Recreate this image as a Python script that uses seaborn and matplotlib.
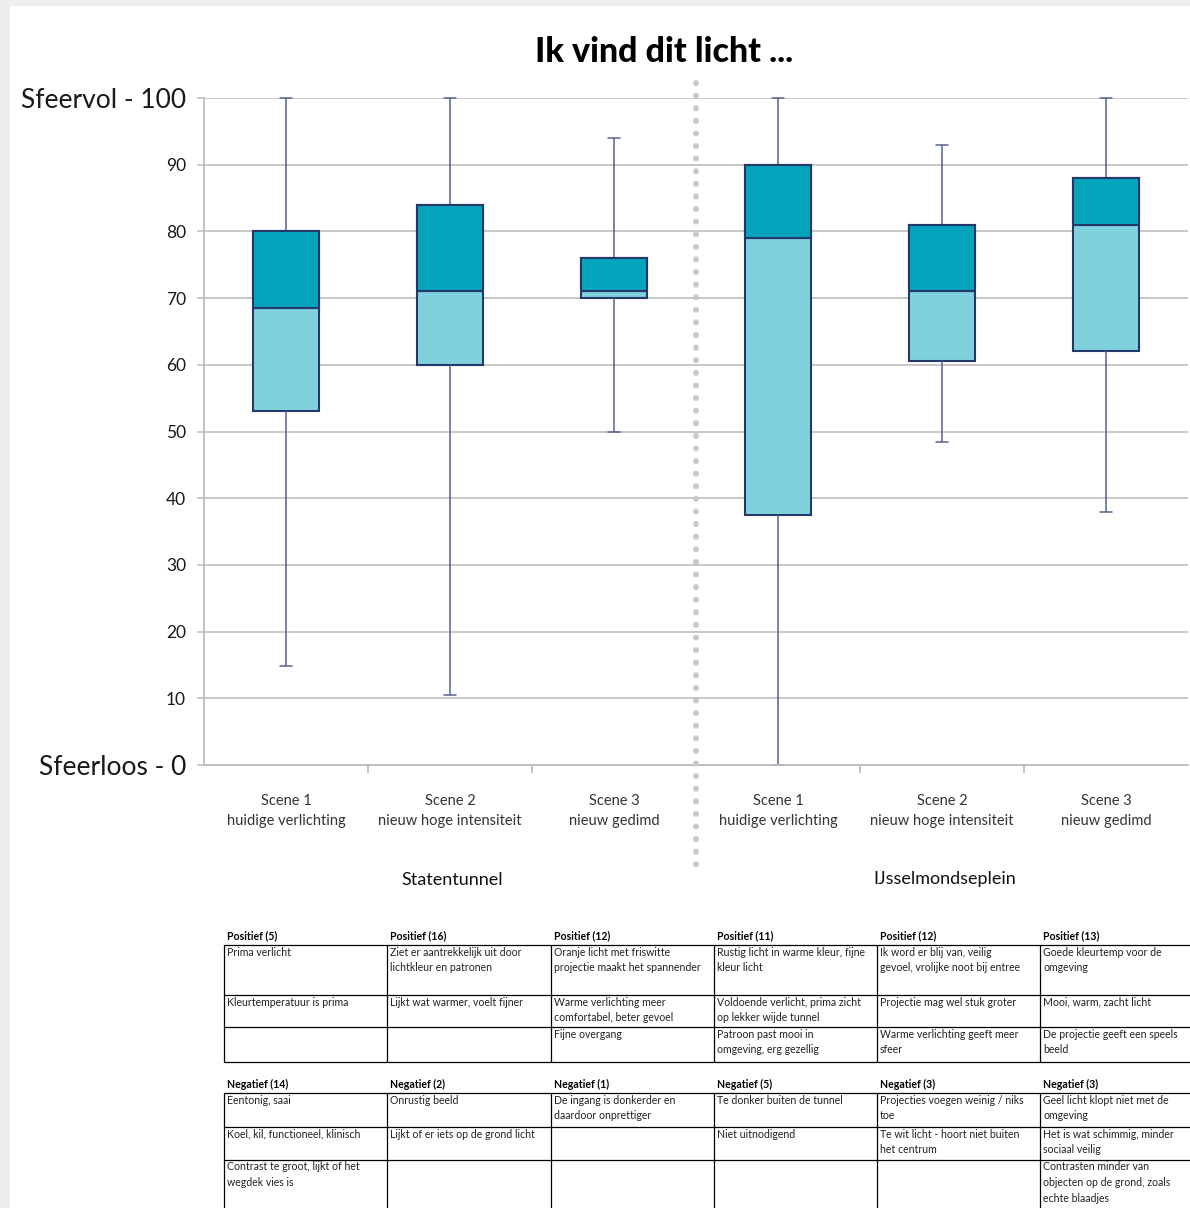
import matplotlib
matplotlib.use("Agg")
import matplotlib.pyplot as plt
from matplotlib.lines import Line2D
from matplotlib.patches import Rectangle
import seaborn as sns
import pandas as pd

# ---- data: five-number summaries per scene ----
locations = ["Statentunnel", "IJsselmondseplein"]
scene_labels = ["Scene 1\nhuidige verlichting",
                "Scene 2\nnieuw hoge intensiteit",
                "Scene 3\nnieuw gedimd"]
minimum = [14.8, 10.5, 50.0, 0.0, 48.5, 38.0]
q1 = [53.0, 60.0, 70.0, 37.5, 60.5, 62.0]
median = [68.5, 71.0, 71.0, 79.0, 71.0, 81.0]
q3 = [80.0, 84.0, 76.0, 90.0, 81.0, 88.0]
maximum = [100.0, 100.0, 94.0, 100.0, 93.0, 100.0]

y_labels = ["Sfeerloos - 0", "10", "20", "30", "40", "50", "60", "70", "80", "90", "Sfeervol - 100"]

pos_headers = ["Positief (5)", "Positief (16)", "Positief (12)", "Positief (11)", "Positief (12)", "Positief (13)"]
pos_row1 = ["Prima verlicht", "Ziet er aantrekkelijk uit door\nlichtkleur en patronen",
            "Oranje licht met friswitte\nprojectie maakt het spannender",
            "Rustig licht in warme kleur, fijne\nkleur licht",
            "Ik word er blij van, veilig\ngevoel, vrolijke noot bij entree",
            "Goede kleurtemp voor de\nomgeving"]
pos_row2 = ["Kleurtemperatuur is prima", "Lijkt wat warmer, voelt fijner",
            "Warme verlichting meer\ncomfortabel, beter gevoel",
            "Voldoende verlicht, prima zicht\nop lekker wijde tunnel",
            "Projectie mag wel stuk groter", "Mooi, warm, zacht licht"]
pos_row3 = ["", "", "Fijne overgang", "Patroon past mooi in\nomgeving, erg gezellig",
            "Warme verlichting geeft meer\nsfeer", "De projectie geeft een speels\nbeeld"]

neg_headers = ["Negatief (14)", "Negatief (2)", "Negatief (1)", "Negatief (5)", "Negatief (3)", "Negatief (3)"]
neg_row1 = ["Eentonig, saai", "Onrustig beeld", "De ingang is donkerder en\ndaardoor onprettiger",
            "Te donker buiten de tunnel", "Projecties voegen weinig / niks\ntoe",
            "Geel licht klopt niet met de\nomgeving"]
neg_row2 = ["Koel, kil, functioneel, klinisch", "Lijkt of er iets op de grond licht", "",
            "Niet uitnodigend", "Te wit licht - hoort niet buiten\nhet centrum",
            "Het is wat schimmig, minder\nsociaal veilig"]
neg_row3 = ["Contrast te groot, lijkt of het\nwegdek vies is", "", "", "", "",
            "Contrasten minder van\nobjecten op de grond, zoals\nechte blaadjes"]

# ---- long-form table: one row per summary value ----
keys = [f"{loc} | {s.splitlines()[0]}" for loc in locations for s in scene_labels]
rows = []
for k, a, b, c, d, e in zip(keys, minimum, q1, median, q3, maximum):
    for v in (a, b, c, d, e):
        rows.append({"groep": k, "score": v})
df = pd.DataFrame(rows)

# ---- styling ----
sns.set_theme(style="white")
plt.rcParams["font.family"] = ["Lato", "DejaVu Sans"]

W, H = 1190, 1208
fig = plt.figure(figsize=(W / 100, H / 100), dpi=100, facecolor="white")


def fx(x):
    return x / W


def fy(y):
    return 1 - y / H


LIGHT = "#80D1DE"
DARK = "#05A4BD"
NAVY = "#24396A"
WHISK = "#55638E"
GRID = "#C4C4C4"

# slide-like grey margins
fig.patches.append(Rectangle((0, fy(6)), 1, 1 - fy(6), transform=fig.transFigure,
                             facecolor="#EFEDED", edgecolor="none", zorder=0))
fig.patches.append(Rectangle((0, 0), fx(10), 1, transform=fig.transFigure,
                             facecolor="#EFEDED", edgecolor="none", zorder=0))

ax = fig.add_axes([fx(204), fy(765), fx(1188) - fx(204), fy(98) - fy(765)])
ax.set_facecolor("none")

sns.boxplot(data=df, x="groep", y="score", order=keys, ax=ax,
            width=0.4, whis=(0, 100), color=LIGHT, saturation=1,
            linecolor=NAVY, linewidth=1.5, capwidths=0.07,
            whiskerprops={"color": WHISK, "linewidth": 1.1},
            capprops={"color": WHISK, "linewidth": 1.1},
            medianprops={"color": NAVY, "linewidth": 1.5},
            boxprops={"edgecolor": NAVY, "linewidth": 1.5})
for ln in ax.lines:
    ln.set_clip_on(False)

# upper half of each box (median to third quartile) in the darker tone
upper = [b - a for a, b in zip(median, q3)]
ax.bar(range(len(keys)), upper, bottom=median, width=0.4, color=DARK,
       edgecolor=NAVY, linewidth=1.5, zorder=3)

ax.set_xlim(-0.5, 5.5)
ax.set_ylim(0, 100)
ax.set_xlabel("")
ax.set_ylabel("")

ax.set_yticks(range(0, 101, 10))
ax.set_yticklabels(y_labels)
ax.yaxis.grid(True, color=GRID, linewidth=1.3)
ax.xaxis.grid(False)
ax.set_axisbelow(True)
ax.tick_params(axis="y", length=5, width=1.2, color=GRID, pad=8, labelsize=12.5,
               labelcolor="#1a1a1a", left=True)
for lab in ax.get_yticklabels():
    if "-" in lab.get_text():
        lab.set_fontsize(19)

ax.set_xticks(range(len(keys)))
ax.set_xticklabels(scene_labels * 2)
ax.tick_params(axis="x", length=0, pad=21, labelsize=10.5, labelcolor="#333333")
for lab in ax.get_xticklabels():
    lab.set_linespacing(1.5)
ax.set_xticks([0.5, 1.5, 3.5, 4.5], minor=True)
ax.tick_params(axis="x", which="minor", length=6, width=1.2, color="#B8B8B8", bottom=True)

for side in ("top", "right"):
    ax.spines[side].set_visible(False)
for side in ("left", "bottom"):
    ax.spines[side].set_color("#BDBDBD")
    ax.spines[side].set_linewidth(1.3)

# dotted divider between the two locations
ax.plot([2.5, 2.5], [102.3, -15.8], color="#C8C8C8", linewidth=4.3,
        linestyle=(0, (0.01, 2.1)), dash_capstyle="round", clip_on=False, zorder=5)

# title and location labels
fig.text(fx(664), fy(52), "Ik vind dit licht ...", ha="center", va="center",
         fontsize=24.5, fontweight="black", color="black")
fig.text(fx(452), fy(880), locations[0], ha="center", va="center", fontsize=13, color="#111111")
fig.text(fx(945), fy(879), locations[1], ha="center", va="center", fontsize=13, color="#111111")

# ---- comment tables ----
col_x = [224, 387, 551, 714, 877, 1040, 1203]


def draw_table(header_y, line_ys, headers, rows_):
    for cx, h in zip(col_x[:-1], headers):
        fig.text(fx(cx + 3), fy(header_y), h, ha="left", va="center",
                 fontsize=7.6, fontweight="bold", color="black")
    for ly in line_ys:
        fig.add_artist(Line2D([fx(col_x[0]), fx(col_x[-1])], [fy(ly), fy(ly)],
                              transform=fig.transFigure, color="black", linewidth=0.9))
    for cx in col_x:
        fig.add_artist(Line2D([fx(cx), fx(cx)], [fy(line_ys[0]), fy(line_ys[-1])],
                              transform=fig.transFigure, color="black", linewidth=0.9))
    for r, row in enumerate(rows_):
        top = line_ys[r]
        for cx, txt in zip(col_x[:-1], row):
            if txt:
                fig.text(fx(cx + 3), fy(top + 1.5), txt, ha="left", va="top",
                         fontsize=7.6, color="#222222", linespacing=1.55)


draw_table(936, [945, 995, 1027, 1062], pos_headers, [pos_row1, pos_row2, pos_row3])
draw_table(1084, [1093, 1127, 1160, 1212], neg_headers, [neg_row1, neg_row2, neg_row3])

fig.savefig("out.png", dpi=100, facecolor="white")
